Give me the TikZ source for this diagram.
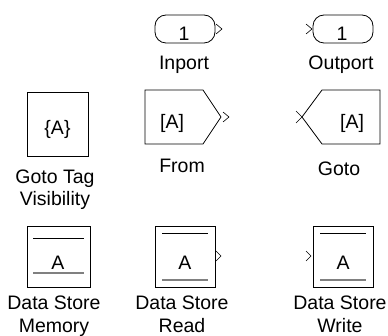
\documentclass[tikz,border=0pt]{standalone}
\usepackage{fontspec}
\setmainfont{Liberation Sans}

\begin{document}
\begin{tikzpicture}[x=1pt,y=-1pt,line width=.8pt,
    lbl/.style={font=\fontsize{19.5}{22}\selectfont,inner sep=0pt,anchor=base},
    port/.style={line width=.6pt},
    store/.style={gray,line width=1.3pt}]
    \useasboundingbox (0,0) rectangle (388,336);
    % row 1: inport, outport
    \draw[rounded corners=11pt] (155,15) rectangle (215,43);
    \draw[port] (216,24) -- (222,29) -- (216,34);
    \node[lbl] (inval) at (184,40.5) {1};
    \node[lbl] (inlbl) at (184,69.5) {Inport};
    \draw[rounded corners=11pt] (313,15) rectangle (373,43);
    \draw[port] (306,24) -- (312,29) -- (306,34);
    \node[lbl] (outval) at (342,40.5) {1};
    \node[lbl] (outlbl) at (341,69.5) {Outport};
    % row 2: goto tag visibility, from, goto
    \draw (27,92) rectangle (88,156);
    \node[lbl] (vistag) at (57.5,135) {\{A\}};
    \node[lbl] (vislbla) at (55,184) {Goto Tag};
    \node[lbl] (vislblb) at (55,206) {Visibility};
    \draw (145,90) -- (203,90) -- (221,117) -- (203,144) -- (145,144) -- cycle;
    \draw[port] (223,112) -- (229,117) -- (223,122);
    \node[lbl] (fromtag) at (172,129) {[A]};
    \node[lbl] (fromlbl) at (182,173) {From};
    \draw (380,90) -- (322,90) -- (302,117) -- (322,144) -- (380,144) -- cycle;
    \draw[port] (296,111) -- (302,117) -- (296,123);
    \node[lbl] (gototag) at (352,129) {[A]};
    \node[lbl] (gotolbl) at (339,176) {Goto};
    % row 3: data store memory, read, write
    \draw (27,226) rectangle (90,287);
    \draw (33,238) -- (84,238);
    \draw[store] (33,273) -- (84,273);
    \node[lbl] (memtag) at (58,270) {A};
    \foreach \x in {155,313}{
      \draw (\x,226) rectangle +(60,61);
      \draw (\x+7,233) -- +(46,0);
      \draw[store] (\x+7,280) -- +(46,0);
    }
    \node[lbl] (readtag) at (185,270) {A};
    \node[lbl] (writetag) at (343,270) {A};
    \draw[port] (216,251) -- (221,256) -- (216,261);
    \draw[port] (306,251) -- (311,256) -- (306,261);
    \node[lbl] (memlbla) at (54,310) {Data Store};
    \node[lbl] (memlblb) at (54,333) {Memory};
    \node[lbl] (readlbla) at (182,310) {Data Store};
    \node[lbl] (readlblb) at (182,333) {Read};
    \node[lbl] (writelbla) at (340,310) {Data Store};
    \node[lbl] (writelblb) at (340,333) {Write};
\end{tikzpicture}
\end{document}
